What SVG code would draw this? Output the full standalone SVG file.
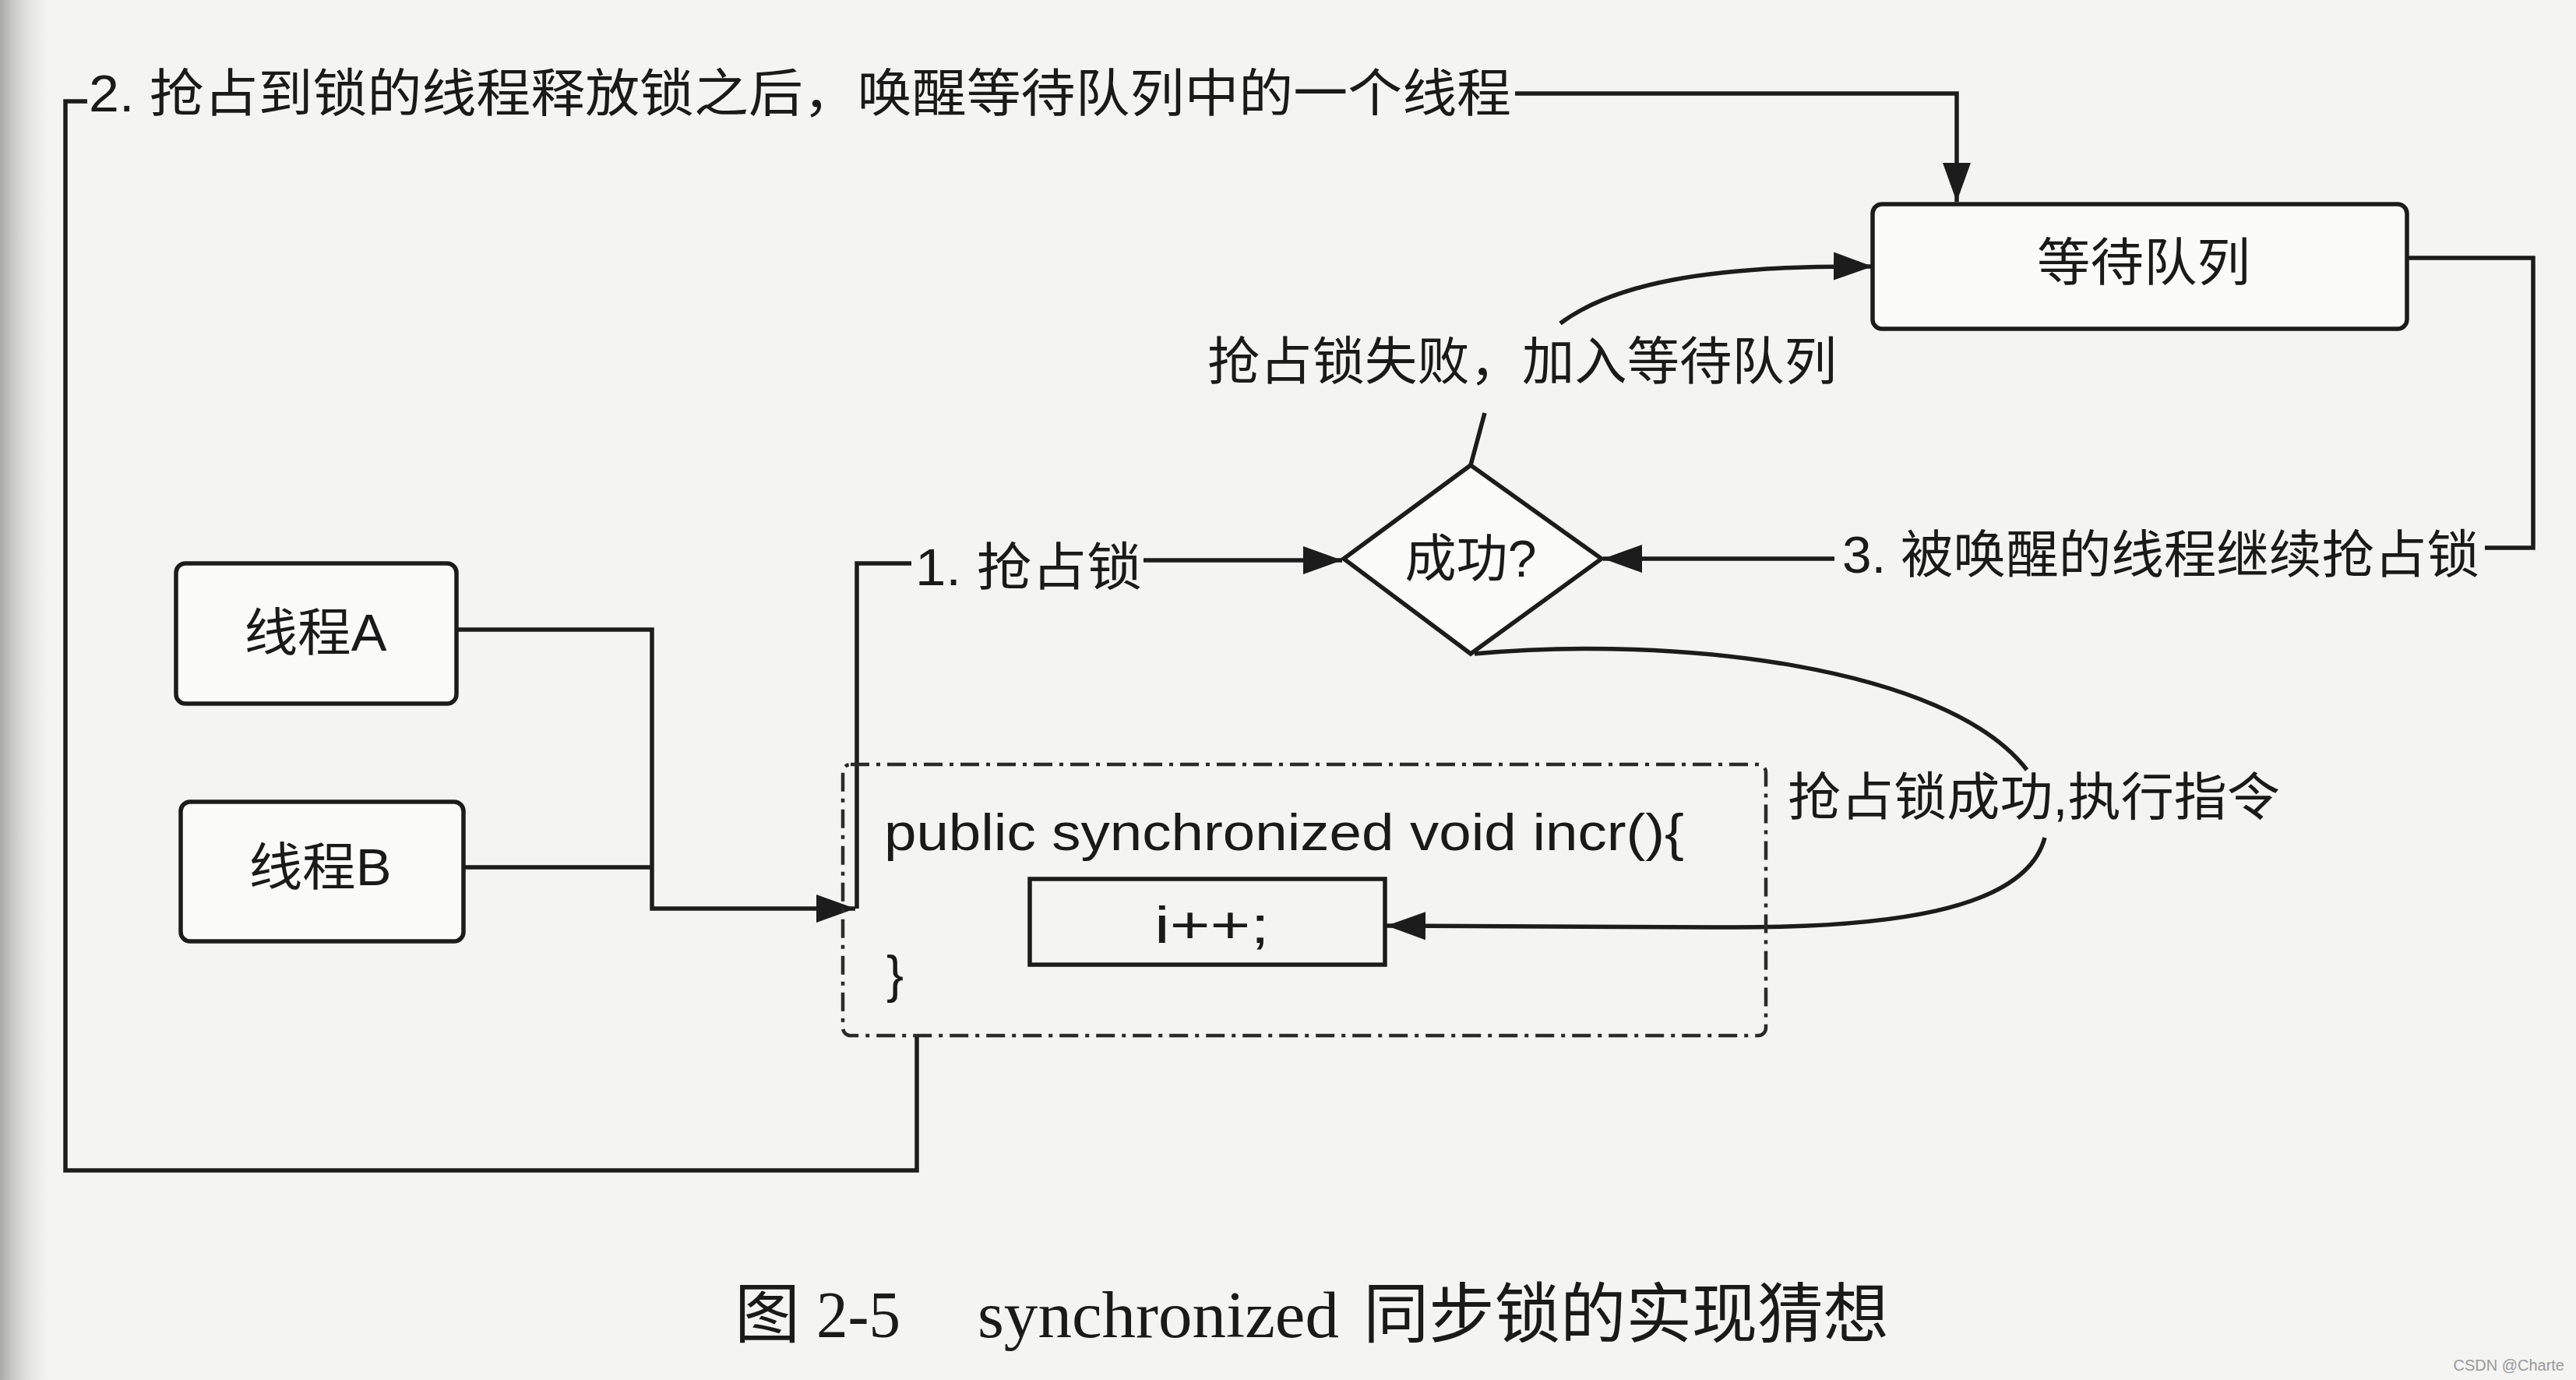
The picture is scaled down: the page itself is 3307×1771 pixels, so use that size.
<svg xmlns="http://www.w3.org/2000/svg" width="3307" height="1771" viewBox="0 0 3307 1771">
<style>
.ln{fill:none;stroke:#1c1c1c;stroke-width:5.5;stroke-linejoin:miter}
.box{fill:#fbfbfa;stroke:#1c1c1c;stroke-width:5.5}
.dash{fill:none;stroke:#2a2a2a;stroke-width:4.5;stroke-dasharray:24 9 5 9}
.t{font-family:"Liberation Sans","Noto Sans CJK SC",sans-serif;font-size:66px;fill:#1a1a1a;dominant-baseline:central}
.cap{font-family:"Liberation Serif","Noto Sans CJK SC",serif;font-size:84px;fill:#1a1a1a;dominant-baseline:central}
</style>
<defs>
<marker id="arr" markerUnits="userSpaceOnUse" markerWidth="52" markerHeight="38" refX="50" refY="19" orient="auto">
<path d="M0,1 L50,19 L0,37 z" fill="#1c1c1c"/>
</marker>
<linearGradient id="edge" x1="0" y1="0" x2="1" y2="0">
<stop offset="0" stop-color="#a9a9a7"/>
<stop offset="1" stop-color="#f3f3f1" stop-opacity="0"/>
</linearGradient>
</defs>
<rect width="3307" height="1771" fill="#f4f4f2"/>
<rect x="0" y="0" width="70" height="1771" fill="url(#edge)"/>

<g id="connectors">
<path class="ln" d="M1177,1329 L1177,1502 L84,1502 L84,130 L112,130"/>
<path class="ln" d="M1945,120 L2512,120 L2512,259" marker-end="url(#arr)"/>
<path class="ln" d="M3090,331 L3252,331 L3252,703 L3190,703"/>
<path class="ln" d="M2355,717 L2058,717" marker-end="url(#arr)"/>
<path class="ln" d="M586,808 L837,808 L837,1166 L1098,1166" marker-end="url(#arr)"/>
<path class="ln" d="M595,1113 L837,1113"/>
<path class="ln" d="M1100,1166 L1100,723 L1170,723"/>
<path class="ln" d="M1468,719 L1723,719" marker-end="url(#arr)"/>
<path class="ln" d="M1888,597 L1906,530"/>
<path class="ln" d="M2003,415 C2070,365 2190,340 2404,342" marker-end="url(#arr)"/>
<path class="ln" d="M1893,839 C2150,815 2500,855 2602,988"/>
<path class="ln" d="M2625,1075 C2600,1170 2420,1192 2200,1190 L1780,1188" marker-end="url(#arr)"/>
</g>

<g id="label-release">
<text class="t" x="114" y="120" textLength="1826" lengthAdjust="spacingAndGlyphs">2. 抢占到锁的线程释放锁之后，唤醒等待队列中的一个线程</text>
</g>
<g id="label-fail">
<text class="t" x="1550" y="464" textLength="808" lengthAdjust="spacingAndGlyphs">抢占锁失败，加入等待队列</text>
</g>
<g id="label-wake">
<text class="t" x="2365" y="712" textLength="818" lengthAdjust="spacingAndGlyphs">3. 被唤醒的线程继续抢占锁</text>
</g>
<g id="label-acquire">
<text class="t" x="1175" y="728" textLength="291" lengthAdjust="spacingAndGlyphs">1. 抢占锁</text>
</g>
<g id="label-success">
<text class="t" x="2295" y="1023" textLength="632" lengthAdjust="spacingAndGlyphs">抢占锁成功,执行指令</text>
</g>

<g id="node-queue">
<rect class="box" x="2404" y="262" width="686" height="160" rx="12"/>
<text class="t" x="2752" y="337" text-anchor="middle" textLength="274" lengthAdjust="spacingAndGlyphs">等待队列</text>
</g>

<g id="node-decision">
<polygon class="box" points="1888,597 2056,717 1888,839 1725,717"/>
<text class="t" x="1888" y="717" text-anchor="middle" textLength="169" lengthAdjust="spacingAndGlyphs">成功?</text>
</g>

<g id="node-threadA">
<rect class="box" x="226" y="723" width="360" height="180" rx="12"/>
<text class="t" x="405" y="812" text-anchor="middle" textLength="183" lengthAdjust="spacingAndGlyphs">线程A</text>
</g>

<g id="node-threadB">
<rect class="box" x="232" y="1029" width="363" height="179" rx="12"/>
<text class="t" x="411" y="1113" text-anchor="middle" textLength="183" lengthAdjust="spacingAndGlyphs">线程B</text>
</g>

<g id="node-method">
<rect class="dash" x="1082" y="981" width="1185" height="348" rx="10"/>
<text class="t" x="1135" y="1068" textLength="1027" lengthAdjust="spacingAndGlyphs">public synchronized void incr(){</text>
<text class="t" x="1138" y="1250">}</text>
</g>

<g id="node-incr">
<rect class="box" x="1322" y="1128" width="456" height="110" style="fill:none"/>
<text class="t" x="1556" y="1187" text-anchor="middle" textLength="148" lengthAdjust="spacingAndGlyphs">i++;</text>
</g>

<g id="caption">
<text class="cap" x="943" y="1687">图</text>
<text class="cap" x="1048" y="1687" textLength="108" lengthAdjust="spacingAndGlyphs">2-5</text>
<text class="cap" x="1255" y="1687" textLength="464" lengthAdjust="spacingAndGlyphs">synchronized</text>
<text class="cap" x="1750" y="1687" textLength="675" lengthAdjust="spacingAndGlyphs">同步锁的实现猜想</text>
</g>

<text x="3292" y="1752" text-anchor="end" style="font-family:'Liberation Sans',sans-serif;font-size:20px;fill:#9a9a9a;dominant-baseline:central">CSDN @Charte</text>
</svg>
